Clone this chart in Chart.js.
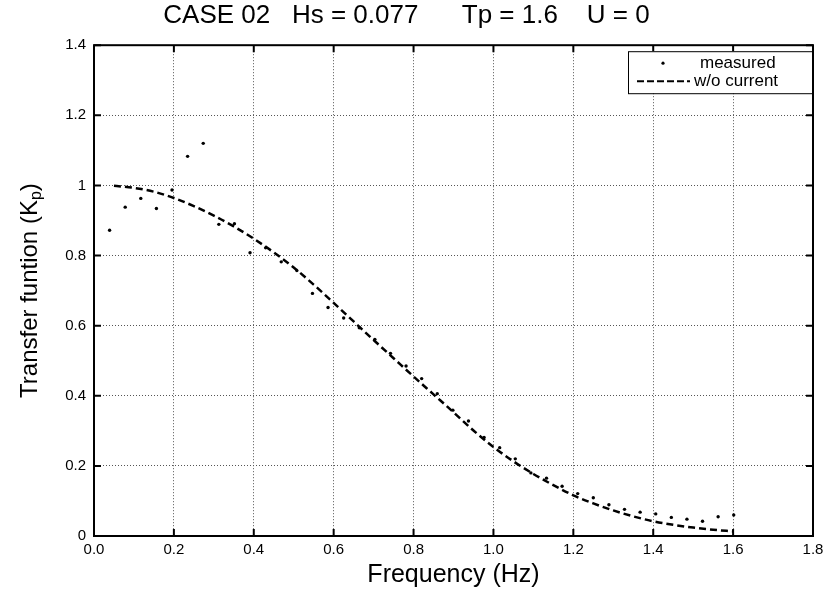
<!DOCTYPE html>
<html>
<head>
<meta charset="utf-8">
<script src="https://cdn.jsdelivr.net/npm/chart.js@4"></script>
<style>
  html, body { margin: 0; padding: 0; background: #fff; }
  #wrap { width: 832px; height: 591px; }
</style>
</head>
<body>
<div id="wrap"><canvas id="chartCanvas" width="832" height="591"></canvas></div>
<script>
// measured transfer function, frequencies step 1/25.6 Hz
const measFreq = [];
for (let k = 1; k <= 41; k++) measFreq.push(k / 25.6);
const measKp = [
    0.872, 0.938, 0.963, 0.934, 0.987, 1.083, 1.120, 0.889, 0.891, 0.808,
    0.822, 0.782, 0.757, 0.692, 0.652, 0.622, 0.594, 0.561, 0.521, 0.485,
    0.449, 0.406, 0.359, 0.328, 0.281, 0.252, 0.220, 0.180, 0.165, 0.142,
    0.121, 0.109, 0.089, 0.076, 0.068, 0.063, 0.053, 0.048, 0.042, 0.055,
    0.060
];

// linear theory, no current
const theoFreq = [
    0.05, 0.10, 0.15, 0.20, 0.25, 0.30, 0.35, 0.40, 0.45, 0.50,
    0.55, 0.60, 0.65, 0.70, 0.75, 0.80, 0.85, 0.90, 0.95, 1.00,
    1.05, 1.10, 1.15, 1.20, 1.25, 1.30, 1.35, 1.40, 1.45, 1.50,
    1.55, 1.60
];
const theoKp = [
    0.999, 0.993, 0.982, 0.964, 0.941, 0.914, 0.883, 0.848, 0.809, 0.766,
    0.717, 0.665, 0.612, 0.559, 0.507, 0.455, 0.404, 0.353, 0.301, 0.254,
    0.213, 0.177, 0.145, 0.116, 0.093, 0.073, 0.056, 0.042, 0.032, 0.024,
    0.018, 0.013
];

const xTicks = [0, 0.2, 0.4, 0.6, 0.8, 1.0, 1.2, 1.4, 1.6, 1.8];
const yTicks = [0, 0.2, 0.4, 0.6, 0.8, 1, 1.2, 1.4];

const titleText = "CASE 02   Hs = 0.077      Tp = 1.6    U = 0";
const seriesLabels = ["measured", "w/o current"];

const FONT = "'Liberation Sans', Arial, sans-serif";

const toPts = (xs, ys) => xs.map((x, i) => ({ x: x, y: ys[i] }));

// box, inward ticks, y title with subscript, legend
const matlabLook = {
    id: "matlabLook",
    afterDraw(chart) {
        const ctx = chart.ctx;
        const a = chart.chartArea;
        const sx = chart.scales.x, sy = chart.scales.y;
        ctx.save();
        ctx.strokeStyle = "#000";
        ctx.lineWidth = 2;
        ctx.strokeRect(a.left, a.top, a.right - a.left, a.bottom - a.top);

        // inward ticks on all sides
        ctx.beginPath();
        xTicks.forEach((t) => {
            const px = sx.getPixelForValue(t);
            ctx.moveTo(px, a.bottom); ctx.lineTo(px, a.bottom - 7);
            ctx.moveTo(px, a.top); ctx.lineTo(px, a.top + 7);
        });
        yTicks.forEach((t) => {
            const py = sy.getPixelForValue(t);
            ctx.moveTo(a.left, py); ctx.lineTo(a.left + 7, py);
            ctx.moveTo(a.right, py); ctx.lineTo(a.right - 7, py);
        });
        ctx.stroke();

        // y axis title with subscript p
        ctx.fillStyle = "#000";
        ctx.translate(30, (a.top + a.bottom) / 2);
        ctx.rotate(-Math.PI / 2);
        ctx.textBaseline = "middle";
        const main = "Transfer funtion (K";
        ctx.font = "24px " + FONT;
        const w1 = ctx.measureText(main).width;
        ctx.font = "16px " + FONT;
        const w2 = ctx.measureText("p").width;
        ctx.font = "24px " + FONT;
        const w3 = ctx.measureText(")").width;
        const x0 = -(w1 + w2 + w3) / 2;
        ctx.textAlign = "left";
        ctx.fillText(main, x0, 0);
        ctx.font = "16px " + FONT;
        ctx.fillText("p", x0 + w1, 7);
        ctx.font = "24px " + FONT;
        ctx.fillText(")", x0 + w1 + w2, 0);
        ctx.restore();

        // legend in the upper right corner
        ctx.save();
        const lx = a.right - 185, ly = a.top + 6, lw = 184, lh = 42;
        ctx.fillStyle = "#fff";
        ctx.fillRect(lx, ly, lw, lh);
        ctx.strokeStyle = "#000";
        ctx.lineWidth = 1;
        ctx.strokeRect(lx + 0.5, ly + 0.5, lw, lh);
        ctx.fillStyle = "#000";
        ctx.font = "17px " + FONT;
        ctx.textBaseline = "middle";
        ctx.beginPath();
        ctx.arc(lx + 35, ly + 12, 1.6, 0, Math.PI * 2);
        ctx.fill();
        ctx.fillText(chart.data.datasets[0].label, lx + 72, ly + 12);
        ctx.setLineDash([7, 3]);
        ctx.lineWidth = 2;
        ctx.beginPath();
        ctx.moveTo(lx + 9, ly + 30);
        ctx.lineTo(lx + 62, ly + 30);
        ctx.stroke();
        ctx.fillText(chart.data.datasets[1].label, lx + 66, ly + 30);
        ctx.restore();
    }
};

const ctx = document.getElementById("chartCanvas").getContext("2d");
new Chart(ctx, {
    type: "scatter",
    data: {
        datasets: [
            {
                label: seriesLabels[0],
                data: toPts(measFreq, measKp),
                showLine: false,
                pointRadius: 1.7,
                pointBackgroundColor: "#000",
                pointBorderWidth: 0,
            },
            {
                label: seriesLabels[1],
                data: toPts(theoFreq, theoKp),
                showLine: true,
                borderColor: "#000",
                borderWidth: 2.5,
                borderDash: [7, 4],
                pointRadius: 0,
                cubicInterpolationMode: "monotone",
            },
        ],
    },
    options: {
        responsive: false,
        animation: false,
        layout: { padding: { left: 0, right: 19, top: 0, bottom: 0 } },
        plugins: {
            legend: { display: false },
            tooltip: { enabled: false },
            title: {
                display: true,
                text: titleText,
                color: "#000",
                font: { family: FONT, size: 26, weight: "normal" },
                padding: { top: 0, bottom: 14 },
            },
        },
        scales: {
            x: {
                type: "linear",
                min: 0,
                max: 1.8,
                afterBuildTicks: (s) => { s.ticks = xTicks.map((v) => ({ value: v })); },
                afterFit: (s) => { s.height = 55; },
                ticks: {
                    color: "#000",
                    font: { family: FONT, size: 15 },
                    padding: 5,
                    maxRotation: 0,
                    callback: (v) => v.toFixed(1),
                },
                grid: { color: "#555", lineWidth: 1, drawTicks: false },
                border: { display: false, dash: [1, 2] },
                title: {
                    display: true,
                    text: "Frequency (Hz)",
                    color: "#000",
                    font: { family: FONT, size: 25 },
                    padding: { top: 0, bottom: 1 },
                },
            },
            y: {
                type: "linear",
                min: 0,
                max: 1.4,
                afterBuildTicks: (s) => { s.ticks = yTicks.map((v) => ({ value: v })); },
                afterFit: (s) => { s.width = 94; },
                ticks: {
                    color: "#000",
                    font: { family: FONT, size: 15 },
                    padding: 8,
                    callback: (v) => String(Math.round(v * 10) / 10),
                },
                grid: { color: "#555", lineWidth: 1, drawTicks: false },
                border: { display: false, dash: [1, 2] },
            },
        },
    },
    plugins: [matlabLook],
});
</script>
</body>
</html>
